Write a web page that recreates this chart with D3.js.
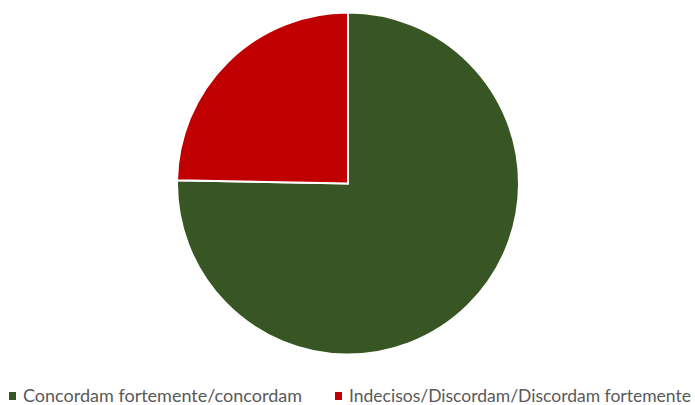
<!DOCTYPE html>
<html>
<head>
<meta charset="utf-8">
<script src="https://cdn.jsdelivr.net/npm/d3@7"></script>
<style>
  html, body { margin: 0; padding: 0; background: #fff; }
</style>
</head>
<body>
<div id="chart"></div>
<script>
// data
const categories = ['Concordam fortemente/concordam', 'Indecisos/Discordam/Discordam fortemente'];
const values = [75.3, 24.7];
const colors = ['#375623', '#C00000'];

const width = 695, height = 405;
const cx = 348, cy = 183.5, radius = 171;

const svg = d3.select('#chart').append('svg')
  .attr('width', width)
  .attr('height', height);

const pie = d3.pie().sort(null).value(d => d.value);
const arc = d3.arc().innerRadius(0).outerRadius(radius);

const data = categories.map((c, i) => ({ name: c, value: values[i], color: colors[i] }));

const g = svg.append('g').attr('transform', `translate(${cx}, ${cy})`);
g.selectAll('path')
  .data(pie(data))
  .enter().append('path')
  .attr('d', arc)
  .attr('fill', d => d.data.color)
  .attr('stroke', '#fff')
  .attr('stroke-width', 2);

// legend
const legendX = [9, 335];
const legendTextLen = [279, 342];
const legend = svg.append('g');
data.forEach((d, i) => {
  legend.append('rect')
    .attr('x', legendX[i])
    .attr('y', 392)
    .attr('width', 7)
    .attr('height', 8)
    .attr('fill', d.color);
  legend.append('text')
    .attr('x', legendX[i] + 14)
    .attr('y', 401.5)
    .attr('textLength', legendTextLen[i])
    .attr('lengthAdjust', 'spacingAndGlyphs')
    .attr('font-family', 'Lato, sans-serif')
    .attr('font-size', '17px')
    .attr('fill', '#595959')
    .text(d.name);
});
</script>
</body>
</html>
